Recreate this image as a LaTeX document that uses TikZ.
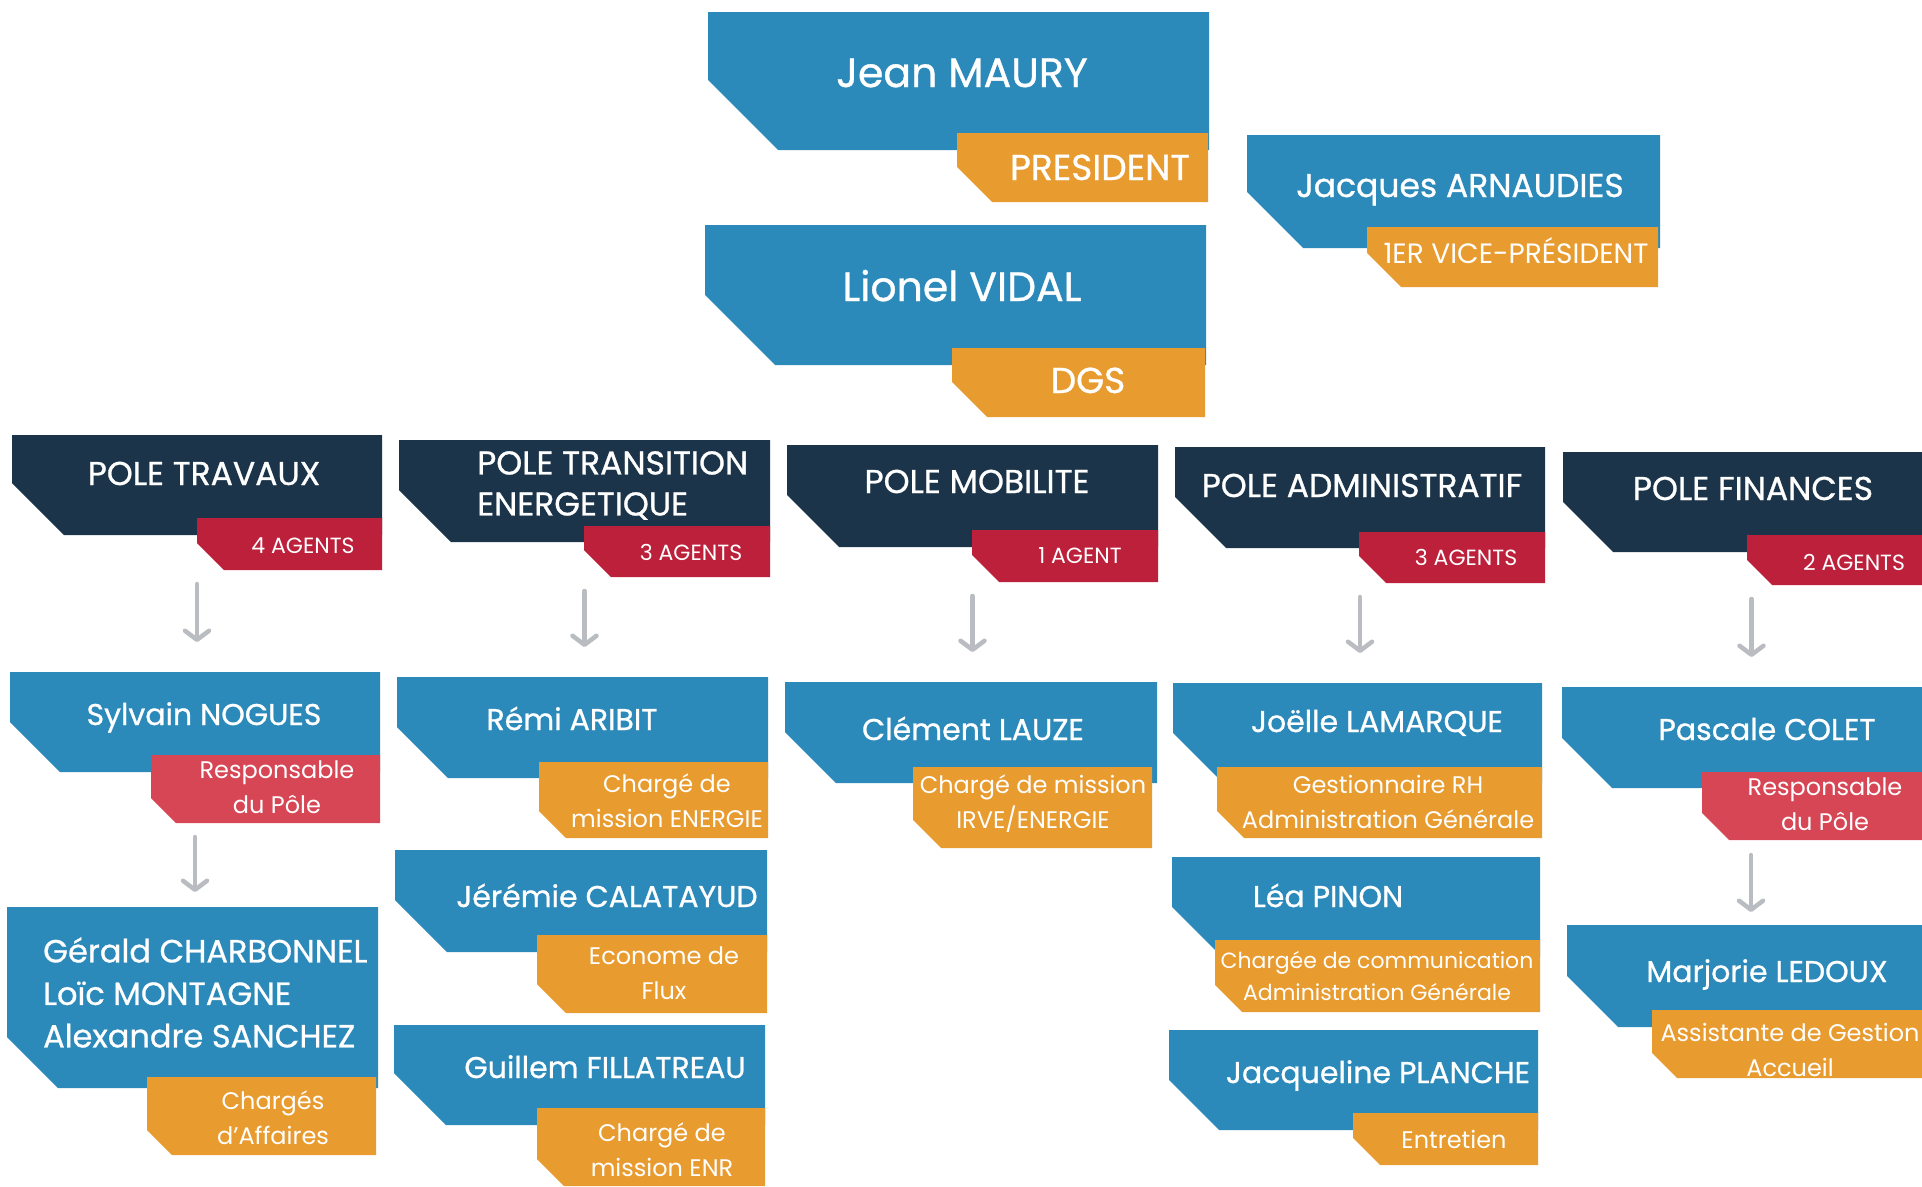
\documentclass[tikz,border=0pt]{standalone}
\usepackage{fontspec}
\setmainfont{Poppins}
\newfontfamily\boldish{Poppins}[FakeBold=0.8]
\usetikzlibrary{arrows.meta,positioning}

\definecolor{cblue}{RGB}{44,138,186}
\definecolor{corange}{RGB}{232,155,46}
\definecolor{cnavy}{RGB}{27,52,74}
\definecolor{cred}{RGB}{188,32,58}
\definecolor{cpink}{RGB}{215,70,85}
\definecolor{cgray}{RGB}{185,188,192}

\tikzset{
  cardbox/.style 2 args={rectangle, inner sep=0pt, outer sep=0pt,
    path picture={\fill[#2] (path picture bounding box.north west)
      -- (path picture bounding box.north east)
      -- (path picture bounding box.south east)
      -- ([xshift=#1pt]path picture bounding box.south west)
      -- ([yshift=#1pt]path picture bounding box.south west) -- cycle;}},
  txt/.style={text=white, inner sep=0pt, anchor=base},
  toptxt/.style={txt, font=\boldish\fontsize{41}{50}\selectfont},
  toplbl/.style={txt, font=\boldish\fontsize{36}{40}\selectfont},
  vptxt/.style={txt, font=\boldish\fontsize{33}{40}\selectfont},
  vplbl/.style={txt, font=\fontsize{28}{32}\selectfont},
  poletxt/.style={txt, font=\boldish\fontsize{33}{41}\selectfont},
  agtxt/.style={txt, font=\fontsize{22}{30}\selectfont},
  nametxt/.style={txt, font=\boldish\fontsize{30}{36}\selectfont},
  roletxt/.style={txt, anchor=center, align=center, font=\fontsize{24}{35}\selectfont},
  arr/.style={cgray, line width=4.5pt, line cap=round, -{Straight Barb[length=9pt,width=24pt,round]}}
}

% name, x1, y1, x2, y2, cut, colour
\newcommand{\cardbox}[7]{%
  \node[cardbox={#6}{#7}, minimum width={(#4-#2)*1pt}, minimum height={(#5-#3)*1pt}]
    (#1) at ({(#2+#4)/2},{(#3+#5)/2}) {};}

\begin{document}
\begin{tikzpicture}[x=1pt, y=-1pt]
\useasboundingbox (0,0) rectangle (1922,1186);
\clip (0,0) rectangle (1922,1186);

% direction
\cardbox{jm}{708}{12}{1209}{150}{70}{cblue}
\cardbox{jml}{957}{133}{1208}{202}{35}{corange}
\node[toptxt] (jmt) at (962,87) {Jean MAURY};
\node[toplbl] (jmlt) at (1100,180) {PRESIDENT};

\cardbox{lv}{705}{225}{1206}{365}{70}{cblue}
\cardbox{lvl}{952}{348}{1205}{417}{35}{corange}
\node[toptxt] (lvt) at (962,301) {Lionel VIDAL};
\node[toplbl] (lvlt) at (1088,393) {DGS};

\cardbox{ja}{1247}{135}{1660}{248}{56}{cblue}
\cardbox{jal}{1367}{227}{1658}{287}{34}{corange}
\node[vptxt] (jat) at (1460,197) {Jacques ARNAUDIES};
\node[vplbl] (jalt) at (1516,263) {1ER VICE-PRÉSIDENT};

% poles
\cardbox{p1}{12}{435}{382}{535}{52}{cnavy}
\cardbox{p1l}{197}{518}{382}{570}{27}{cred}
\node[poletxt] (p1t) at (204,485) {POLE TRAVAUX};
\node[agtxt] (p1lt) at (303,553) {4 AGENTS};

\cardbox{p2}{399}{440}{770}{542}{52}{cnavy}
\cardbox{p2l}{584}{526}{770}{577}{27}{cred}
\node[poletxt, anchor=west, align=left] (p2t) at (477,485.5) {POLE TRANSITION\\ENERGETIQUE};
\node[agtxt] (p2lt) at (691,560) {3 AGENTS};

\cardbox{p3}{787}{445}{1158}{547}{52}{cnavy}
\cardbox{p3l}{972}{530}{1158}{582}{27}{cred}
\node[poletxt] (p3t) at (977,493) {POLE MOBILITE};
\node[agtxt] (p3lt) at (1080,563) {1 AGENT};

\cardbox{p4}{1175}{447}{1545}{548}{51}{cnavy}
\cardbox{p4l}{1359}{532}{1545}{583}{27}{cred}
\node[poletxt] (p4t) at (1362,497) {POLE ADMINISTRATIF};
\node[agtxt] (p4lt) at (1466,565) {3 AGENTS};

\cardbox{p5}{1563}{452}{1940}{552}{50}{cnavy}
\cardbox{p5l}{1747}{535}{1940}{585}{25}{cred}
\node[poletxt] (p5t) at (1753,500) {POLE FINANCES};
\node[agtxt] (p5lt) at (1854,570) {2 AGENTS};

% agents
\cardbox{sn}{10}{672}{380}{772}{50}{cblue}
\cardbox{snl}{151}{755}{380}{823}{25}{cpink}
\node[nametxt] (snt) at (204,725) {Sylvain NOGUES};
\node[roletxt] (snlt) at (277,787.5) {Responsable\\du Pôle};

\cardbox{gc}{7}{907}{378}{1088}{51}{cblue}
\cardbox{gcl}{147}{1077}{376}{1155}{25}{corange}
\node[nametxt, anchor=west, align=left, font=\boldish\fontsize{32}{42.5}\selectfont] (gct) at (43,992.5)
  {Gérald CHARBONNEL\\Loïc MONTAGNE\\Alexandre SANCHEZ};
\node[roletxt] (gclt) at (273,1117.5) {Chargés\\d'Affaires};

\cardbox{ra}{397}{677}{768}{778}{51}{cblue}
\cardbox{ral}{539}{762}{768}{838}{27}{corange}
\node[nametxt] (rat) at (572,730) {Rémi ARIBIT};
\node[roletxt] (ralt) at (667,801) {Chargé de\\mission ENERGIE};

\cardbox{jc}{395}{850}{767}{952}{52}{cblue}
\cardbox{jcl}{537}{935}{767}{1013}{29}{corange}
\node[nametxt] (jct) at (607,907) {Jérémie CALATAYUD};
\node[roletxt] (jclt) at (664,973.5) {Econome de\\Flux};

\cardbox{gf}{394}{1025}{765}{1125}{52}{cblue}
\cardbox{gfl}{537}{1108}{765}{1186}{27}{corange}
\node[nametxt] (gft) at (605,1078) {Guillem FILLATREAU};
\node[roletxt] (gflt) at (662,1150) {Chargé de\\mission ENR};

\cardbox{cl}{785}{682}{1157}{783}{51}{cblue}
\cardbox{cll}{913}{767}{1152}{848}{28}{corange}
\node[nametxt] (clt) at (973,740) {Clément LAUZE};
\node[roletxt] (cllt) at (1033,803.5) {Chargé de mission\\IRVE/ENERGIE};

\cardbox{jl}{1173}{683}{1542}{783}{50}{cblue}
\cardbox{jll}{1217}{767}{1542}{838}{27}{corange}
\node[nametxt] (jlt) at (1377,732) {Joëlle LAMARQUE};
\node[roletxt] (jllt) at (1388,801.5) {Gestionnaire RH\\Administration Générale};

\cardbox{lp}{1172}{857}{1540}{957}{50}{cblue}
\cardbox{lpl}{1215}{940}{1540}{1012}{27}{corange}
\node[nametxt] (lpt) at (1328,907) {Léa PINON};
\node[roletxt, font=\fontsize{22}{32}\selectfont] (lplt) at (1377,976)
  {Chargée de communication\\Administration Générale};

\cardbox{jp}{1169}{1030}{1538}{1130}{50}{cblue}
\cardbox{jpl}{1353}{1113}{1538}{1165}{27}{corange}
\node[nametxt] (jpt) at (1378,1083) {Jacqueline PLANCHE};
\node[roletxt, anchor=base] (jplt) at (1454,1148) {Entretien};

\cardbox{pc}{1562}{687}{1940}{788}{50}{cblue}
\cardbox{pcl}{1702}{772}{1940}{840}{27}{cpink}
\node[nametxt] (pct) at (1767,740) {Pascale COLET};
\node[roletxt] (pclt) at (1825,804) {Responsable\\du Pôle};

\cardbox{ml}{1567}{925}{1940}{1027}{51}{cblue}
\cardbox{mll}{1652}{1010}{1940}{1078}{25}{corange}
\node[nametxt] (mlt) at (1767,982) {Marjorie LEDOUX};
\node[roletxt] (mllt) at (1790,1050) {Assistante de Gestion\\Accueil};

% arrows
\foreach \h/\l/\b in {p1/p1l/sn, p2/p2l/ra, p3/p3l/cl, p4/p4l/jl, p5/p5l/pc}
  \draw[arr] ([yshift=-14pt]\h.south |- \l.south) -- ([yshift=30pt]\h.south |- \b.north);
\draw[arr] ([yshift=-14pt]sn.south |- snl.south) -- ([yshift=15pt]sn.south |- gc.north);
\draw[arr] ([yshift=-15pt]pc.south |- pcl.south) -- ([yshift=13pt]pc.south |- ml.north);
\end{tikzpicture}
\end{document}
